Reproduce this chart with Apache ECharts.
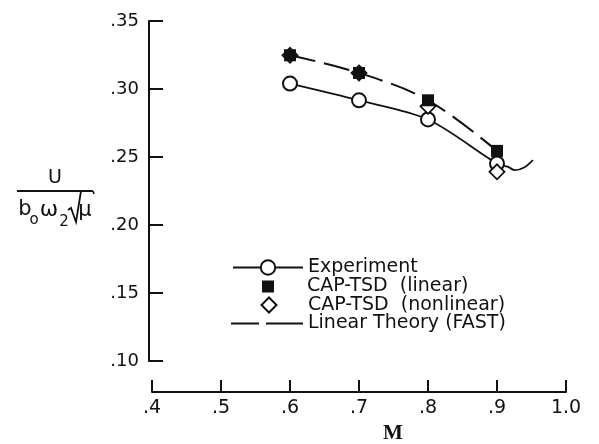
<!DOCTYPE html>
<html>
<head>
<meta charset="utf-8">
<script src="https://cdn.jsdelivr.net/npm/echarts@6/dist/echarts.min.js"></script>
<style>
  html, body { margin: 0; background: #fff; }
  #flutter { width: 599px; height: 444px; }
</style>
</head>
<body>
<div id="flutter"></div>
<script>
// Mach numbers of the computed / measured points
const machs = [0.6, 0.7, 0.8, 0.9];
// flutter speed index
const experiment = [0.304, 0.2917, 0.2776, 0.2452];
// experiment fairing past M = .9 (dip without symbols)
const experimentTailMach = [0.916, 0.926, 0.94, 0.952];
const experimentTail = [0.2427, 0.2403, 0.2425, 0.2477];
const capLinear = [0.3248, 0.3118, 0.2917, 0.2545];
const capNonlinear = [0.3248, 0.3118, 0.2873, 0.2391];
const fastTheory = [0.3248, 0.3118, 0.2917, 0.2545];

const xTickLabels = ['.4', '.5', '.6', '.7', '.8', '.9', '1.0'];
const yTickLabels = ['.10', '.15', '.20', '.25', '.30', '.35'];

const names = ['Experiment', 'CAP-TSD  (linear)', 'CAP-TSD  (nonlinear)', 'Linear Theory (FAST)'];

const ink = '#111';
const sans = '"DejaVu Sans", sans-serif';

const zip = (xs, ys) => xs.map((x, i) => [x, ys[i]]);

let expData = zip(machs, experiment).concat(
    zip(experimentTailMach, experimentTail).map(p => ({ value: p, symbol: 'none' }))
);

const chart = echarts.init(document.getElementById('flutter'));

// one legend per row so every icon can get its own size
const legendRow = (item, left, top, w, h, pad) => ({
    data: [item],
    orient: 'vertical',
    left: left,
    top: top,
    padding: 0,
    itemWidth: w,
    itemHeight: h,
    selectedMode: false,
    textStyle: { color: ink, fontFamily: sans, fontSize: 19, lineHeight: 18, padding: [0, 0, 0, pad] }
});

let option = {
    backgroundColor: '#fff',
    animation: false,
    grid: { left: 152, right: 33, top: 21, bottom: 83, containLabel: false, outerBoundsMode: 'none' },
    legend: [
        legendRow(names[0], 232, 258, 70, 18, 0),
        legendRow(names[1], 262, 277, 12, 12, 28),
        legendRow(names[2], 260.5, 295.5, 15, 15, 26.5),
        legendRow({ name: names[3], icon: 'path://M0 0H28V2H0Z M35 0H72V2H35Z' }, 231, 314, 72, 2, 0)
    ],
    xAxis: {
        type: 'value',
        min: 0.4,
        max: 1.0,
        interval: 0.1,
        offset: 31,
        axisLine: { show: true, lineStyle: { color: ink, width: 2 } },
        axisTick: { show: true, inside: true, length: 12, lineStyle: { color: ink, width: 2 } },
        splitLine: { show: false },
        axisLabel: {
            margin: 7,
            color: ink,
            fontFamily: sans,
            fontSize: 19,
            formatter: (v, i) => xTickLabels[i]
        },
        name: 'M',
        nameLocation: 'middle',
        nameGap: 30,
        nameTextStyle: {
            color: ink,
            fontFamily: '"Liberation Serif", serif',
            fontWeight: 'bold',
            fontSize: 21,
            padding: [0, 0, 0, 68]
        }
    },
    yAxis: {
        type: 'value',
        min: 0.10,
        max: 0.35,
        interval: 0.05,
        offset: 3,
        axisLine: { show: true, lineStyle: { color: ink, width: 2 } },
        axisTick: { show: true, inside: true, length: 14, lineStyle: { color: ink, width: 2 } },
        splitLine: { show: false },
        axisLabel: {
            margin: 10,
            color: ink,
            fontFamily: sans,
            fontSize: 18,
            formatter: (v, i) => yTickLabels[i]
        }
    },
    // axis title  U / (b_o w_2 sqrt(mu))
    graphic: [
        { type: 'text', x: 55, y: 178, style: { text: 'U', font: '19px "DejaVu Sans"', fill: ink, align: 'center', verticalAlign: 'middle' } },
        { type: 'line', shape: { x1: 17, y1: 191, x2: 93, y2: 191 }, style: { stroke: ink, lineWidth: 1.8 } },
        { type: 'polyline', shape: { points: [[68, 210], [71, 208], [76, 222], [81, 191]] }, style: { stroke: ink, lineWidth: 1.8, fill: null } },
        { type: 'line', shape: { x1: 93, y1: 191, x2: 94, y2: 194 }, style: { stroke: ink, lineWidth: 1.6 } },
        { type: 'text', x: 25, y: 210, style: { text: 'b', font: '21px "DejaVu Sans"', fill: ink, align: 'center', verticalAlign: 'middle' } },
        { type: 'text', x: 34, y: 220, style: { text: 'o', font: '15px "DejaVu Sans"', fill: ink, align: 'center', verticalAlign: 'middle' } },
        { type: 'text', x: 49, y: 210, style: { text: 'ω', font: '22px "DejaVu Sans"', fill: ink, align: 'center', verticalAlign: 'middle' } },
        { type: 'text', x: 64, y: 222, style: { text: '2', font: '15px "DejaVu Sans"', fill: ink, align: 'center', verticalAlign: 'middle' } },
        { type: 'text', x: 85, y: 211, style: { text: 'μ', font: '21px "DejaVu Sans"', fill: ink, align: 'center', verticalAlign: 'middle' } }
    ],
    series: [
        {
            name: names[3],
            type: 'line',
            data: zip(machs, fastTheory),
            symbol: 'none',
            smooth: 0.35,
            lineStyle: { color: ink, width: 2, type: [26, 9] },
            itemStyle: { color: ink },
            z: 2
        },
        {
            name: names[0],
            type: 'line',
            data: expData,
            smooth: 0.3,
            symbol: 'circle',
            symbolSize: 14,
            itemStyle: { color: '#fff', borderColor: ink, borderWidth: 2 },
            lineStyle: { color: ink, width: 1.8 },
            z: 3
        },
        {
            name: names[2],
            type: 'scatter',
            data: zip(machs, capNonlinear),
            symbol: 'diamond',
            symbolSize: 15,
            itemStyle: { color: '#fff', borderColor: ink, borderWidth: 1.8, opacity: 1 },
            z: 4
        },
        {
            name: names[1],
            type: 'scatter',
            data: zip(machs, capLinear),
            symbol: 'rect',
            symbolSize: 12,
            itemStyle: { color: ink, opacity: 1 },
            z: 5
        }
    ]
};

chart.setOption(option);
window.addEventListener('resize', () => {
    chart.resize();
});
</script>
</body>
</html>
